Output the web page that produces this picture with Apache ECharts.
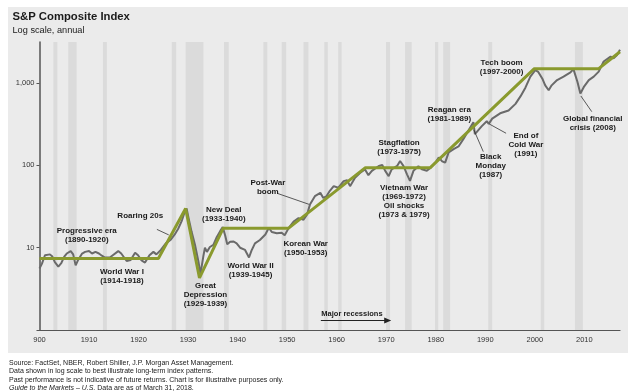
<!DOCTYPE html>
<html>
<head>
<meta charset="utf-8">
<script src="https://cdn.jsdelivr.net/npm/echarts@6/dist/echarts.min.js"></script>
<style>
html,body{margin:0;padding:0;background:#fff;}
#chart{width:628px;height:392px;}
</style>
</head>
<body>
<div id="chart"></div>
<script>
// S&P Composite Index (log scale)
const indexYears = [1900,1900.5,1901.1,1902.1,1902.6,1903.1,1903.8,1904.4,1905.0,1905.5,1906.3,1906.8,1907.3,1907.8,1908.6,1909.2,1910.0,1910.6,1911.3,1912.0,1912.6,1913.2,1914.2,1914.8,1915.9,1916.5,1917.6,1918.4,1919.3,1919.9,1920.6,1921.3,1922.2,1923.0,1923.6,1924.5,1925.5,1926.5,1927.3,1928.0,1928.7,1929.3,1929.7,1930.1,1930.7,1931.4,1932.1,1932.5,1933.1,1933.4,1933.8,1934.4,1935.1,1935.8,1936.5,1937.0,1937.5,1937.9,1938.5,1939.2,1939.8,1940.5,1941.5,1942.3,1942.8,1943.5,1944.5,1945.6,1946.3,1946.9,1947.9,1948.9,1949.5,1950.3,1951.3,1952.3,1953.3,1954.0,1954.6,1955.6,1956.7,1957.3,1957.9,1958.5,1959.4,1960.3,1961.4,1962.1,1962.7,1963.7,1964.7,1965.7,1966.4,1967.1,1968.5,1969.2,1969.8,1970.5,1971.1,1972.2,1972.8,1973.5,1974.2,1974.8,1975.5,1976.5,1977.2,1978.2,1978.9,1979.9,1980.6,1981.3,1981.9,1982.6,1983.6,1984.6,1985.6,1986.6,1987.6,1987.9,1988.3,1989.3,1990.3,1990.7,1991.4,1993.0,1994.7,1996.1,1997.1,1998.1,1999.1,2000.1,2000.7,2001.5,2002.1,2002.8,2003.4,2004.5,2005.8,2007.2,2007.8,2008.6,2009.2,2009.9,2010.9,2011.9,2012.9,2013.9,2015.3,2015.9,2016.6,2017.2];
const indexValues = [5.6,6.4,8.1,8.3,7.8,6.7,5.9,6.5,7.8,8.5,9.1,8.3,6.1,7.1,8.5,8.9,9.1,8.5,8.9,8.5,8.0,7.6,7.6,8.1,9.1,8.5,6.9,7.1,8.7,8.1,7.0,6.6,8.1,8.9,8.3,9.4,11.3,12.5,14.5,17,21,27,30,22.9,15.7,10.8,6.7,4.8,8.0,10.0,8.9,10.2,10.8,13.5,16,17.8,14,11,11.8,11.9,11.3,10.0,9.4,7.6,9.2,11.3,12.4,14.5,17.5,15.5,15,15.2,14.2,17.3,20.8,22.9,21.9,25.2,33.4,42.3,46.4,40.3,42,48,56,53.5,64.5,66,56,71,81,89.6,76,86,98.5,101,85.8,74,89.6,98.5,113,98,78,65,86,98,90,86,93,108,125,112,108,144,158,170,210,265,335,240,253,300,345,320,370,430,466,560,690,880,1200,1440,1370,1140,940,820,940,1090,1200,1350,1480,1040,750,900,1090,1200,1380,1830,2100,2000,2200,2540];

// Long-term trend segments
const trendYears = [1900,1924,1929.5,1932.3,1937.1,1950.3,1965.8,1978.9,1999.9,2012.9,2017.2];
const trendValues = [7.4,7.4,30,4.3,17.3,17.3,94,94,1500,1500,2410];

// Major recessions (start, end)
const recessionStart = [1902.8,1905.8,1912.8,1926.7,1929.5,1937.25,1945.2,1948.9,1953.3,1957.5,1960.3,1969.96,1973.8,1979.85,1981.5,1990.6,2001.2,2008.1];
const recessionEnd   = [1903.6,1907.5,1913.6,1927.6,1933.1,1938.2,1946.0,1949.8,1954.3,1958.2,1961.0,1970.77,1975.15,1980.5,1982.9,1991.4,2001.9,2009.7];

// Annotations
const noteTexts = ['Progressive era\n(1890-1920)','Roaring 20s','World War I\n(1914-1918)','New Deal\n(1933-1940)','Great\nDepression\n(1929-1939)','World War II\n(1939-1945)','Post-War\nboom','Korean War\n(1950-1953)','Stagflation\n(1973-1975)','Vietnam War\n(1969-1972)\nOil shocks\n(1973 & 1979)','Reagan era\n(1981-1989)','Tech boom\n(1997-2000)','Black\nMonday\n(1987)','End of\nCold War\n(1991)','Global financial\ncrisis (2008)'];
const noteYears  = [1909.55,1920.34,1916.64,1937.2,1933.5,1942.6,1946.1,1953.74,1972.6,1973.6,1982.75,1993.3,1991.1,1998.2,2011.7];
const noteValues = [14.3,24.5,4.5,25.3,2.70,5.33,54.7,9.92,165,36.4,413,1549,98.4,180.6,329.6];

// Leader lines [x1,y1,x2,y2] in data units
const leaderFrom = [[1923.7,16.7],[1948.0,45.8],[1987.7,270],[1994.2,246],[2011.5,450]];
const leaderTo   = [[1926.1,14.3],[1954.4,33.7],[1989.6,147],[1990.8,319],[2009.3,698]];

const xTickYears = [1900,1910,1920,1930,1940,1950,1960,1970,1980,1990,2000,2010];

const FONT = '"Liberation Sans", Arial, sans-serif';
const chart = echarts.init(document.getElementById('chart'), null, {renderer:'canvas'});

const indexData = indexYears.map((y,i)=>[y,indexValues[i]]);
const trendData = trendYears.map((y,i)=>[y,trendValues[i]]);
const bands = recessionStart.map((s,i)=>[{xAxis:s},{xAxis:recessionEnd[i]}]);
const notes = noteTexts.map((t,i)=>({
  coord:[noteYears[i],noteValues[i]],
  label:{formatter:t}
}));
const leaders = leaderFrom.map((f,i)=>[{coord:f},{coord:leaderTo[i]}]);

chart.setOption({
  backgroundColor:'#ffffff',
  animation:false,
  textStyle:{fontFamily:FONT},
  grid:{left:39.5,right:8,top:42,bottom:62,containLabel:false},
  xAxis:{
    type:'value',min:1900,max:2017.2,interval:10,
    axisLine:{show:true,lineStyle:{color:'#555',width:1.2}},
    axisTick:{show:false},
    splitLine:{show:false},
    axisLabel:{
      color:'#333',fontSize:7.5,fontFamily:FONT,margin:6,showMaxLabel:false,
      formatter:v=>{
        if(xTickYears.indexOf(v)<0) return '';
        return v===1900?'900':String(v);
      }
    }
  },
  yAxis:{
    type:'log',logBase:10,min:1,max:3162.28,interval:1,
    axisLine:{show:true,lineStyle:{color:'#555',width:1.5}},
    axisTick:{show:true,length:3,lineStyle:{color:'#555'}},
    splitLine:{show:false},
    axisLabel:{
      color:'#333',fontSize:7.5,fontFamily:FONT,margin:5,showMaxLabel:false,
      formatter:v=>{
        const r=Math.round(v);
        if(r===10||r===100||r===1000) return r.toLocaleString('en-US');
        return '';
      }
    }
  },
  graphic:[
    {type:'rect',z:-100,silent:true,shape:{x:8,y:7,width:620,height:346},style:{fill:'#ebebeb'}},
    {type:'text',left:12.5,top:11,style:{text:'S&P Composite Index',font:'bold 11.3px '+FONT,fill:'#1a1a1a'}},
    {type:'text',left:12.5,top:26,style:{text:'Log scale, annual',font:'9.2px '+FONT,fill:'#1a1a1a'}},
    {type:'text',left:9,top:359.5,style:{text:'Source: FactSet, NBER, Robert Shiller, J.P. Morgan Asset Management.',font:'7px '+FONT,fill:'#1a1a1a'}},
    {type:'text',left:9,top:368,style:{text:'Data shown in log scale to best illustrate long-term index patterns.',font:'7px '+FONT,fill:'#1a1a1a'}},
    {type:'text',left:9,top:376.5,style:{text:'Past performance is not indicative of future returns. Chart is for illustrative purposes only.',font:'7px '+FONT,fill:'#1a1a1a'}},
    {type:'text',left:9,top:385,style:{
      text:'{i|Guide to the Markets – U.S.} Data are as of March 31, 2018.',
      font:'7px '+FONT,fill:'#1a1a1a',
      rich:{i:{fontStyle:'italic',fontSize:7,fontFamily:FONT,fill:'#1a1a1a'}}
    }}
  ],
  series:[
    {
      name:'S&P Composite',type:'line',data:indexData,symbol:'none',z:2,
      lineStyle:{color:'#6a6a6a',width:2},
      markArea:{silent:true,itemStyle:{color:'#dbdbdb'},data:bands},
      markLine:{
        silent:true,symbol:['none','triangle'],symbolSize:[6,7],
        lineStyle:{color:'#222',width:1.2,type:'solid'},label:{show:false},
        data:[[{coord:[1956.8,1.3]},{coord:[1970.3,1.3]}]]
      },
      markPoint:{
        silent:true,symbol:'rect',symbolSize:1,itemStyle:{color:'rgba(0,0,0,0)'},
        label:{show:true,position:'right',distance:0,color:'#1a1a1a',fontSize:7.5,fontWeight:'bold',fontFamily:FONT},
        data:[{coord:[1956.8,1.57],label:{formatter:'Major recessions'}}]
      }
    },
    {
      name:'Trend',type:'line',data:trendData,symbol:'none',z:3,
      lineStyle:{color:'#8a9a2e',width:3},
      markLine:{
        silent:true,symbol:['none','none'],
        lineStyle:{color:'#333',width:0.8,type:'solid'},label:{show:false},
        data:leaders
      },
      markPoint:{
        silent:true,symbol:'rect',symbolSize:1,itemStyle:{color:'rgba(0,0,0,0)'},
        label:{show:true,position:'inside',color:'#1a1a1a',fontSize:8,fontWeight:'bold',fontFamily:FONT,lineHeight:9,align:'center',verticalAlign:'middle'},
        data:notes
      }
    }
  ]
});
</script>
</body>
</html>
